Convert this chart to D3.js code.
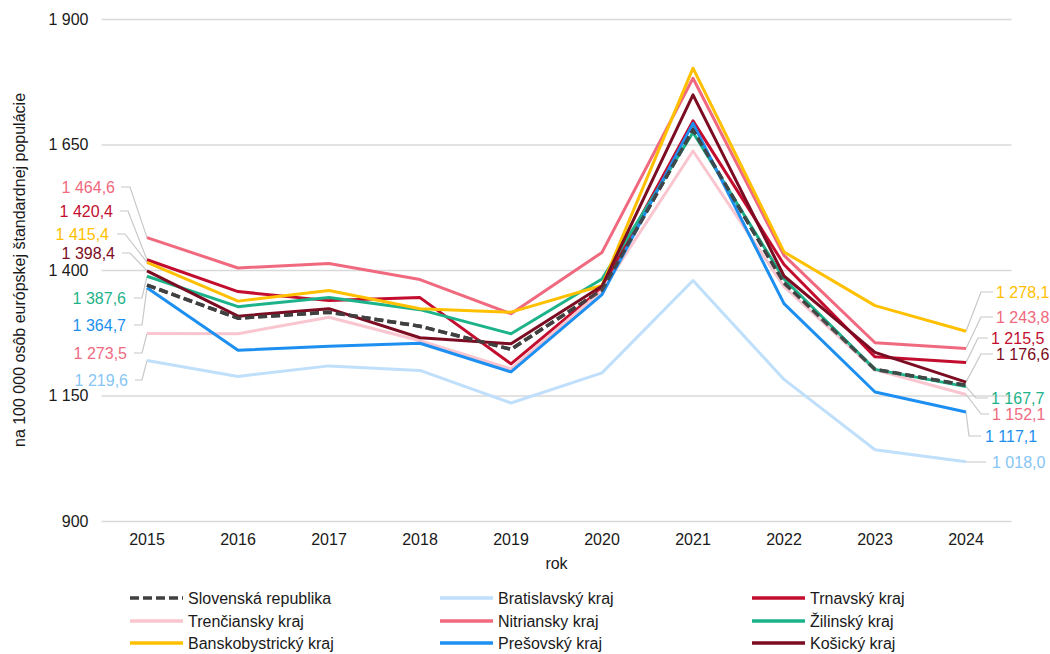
<!DOCTYPE html>
<html>
<head>
<meta charset="utf-8">
<script src="https://cdn.jsdelivr.net/npm/d3@7"></script>
<style>
  body { margin: 0; background: #fff; }
  text { font-family: "Liberation Sans", Arial, sans-serif; }
</style>
</head>
<body>
<svg id="chart"></svg>
<script>
// data
const years = [2015, 2016, 2017, 2018, 2019, 2020, 2021, 2022, 2023, 2024];
const seriesNames = ["Slovenská republika", "Bratislavský kraj", "Trnavský kraj", "Trenčiansky kraj",
  "Nitriansky kraj", "Žilinský kraj", "Banskobystrický kraj", "Prešovský kraj", "Košický kraj"];
const slovensko   = [1370, 1304, 1316, 1288, 1242, 1360, 1679, 1374, 1202, 1170];
const bratislava  = [1219.6, 1188, 1209, 1200, 1135, 1195, 1379, 1182, 1042, 1018.0];
const trnava      = [1420.4, 1357, 1339, 1345, 1213, 1364, 1697, 1411, 1227, 1215.5];
const trencin     = [1273.5, 1273, 1306, 1259, 1203, 1359, 1637, 1367, 1201, 1152.1];
const nitra       = [1464.6, 1404, 1413, 1381, 1313, 1435, 1782, 1429, 1255, 1243.8];
const zilina      = [1387.6, 1327, 1345, 1321, 1273, 1382, 1674, 1382, 1202, 1167.7];
const bystrica    = [1415.4, 1338, 1359, 1323, 1316, 1369, 1802, 1436, 1329, 1278.1];
const presov      = [1364.7, 1240, 1248, 1254, 1197, 1351, 1692, 1333, 1157, 1117.1];
const kosice      = [1398.4, 1308, 1323, 1265, 1253, 1368, 1749, 1388, 1236, 1176.6];
const yTicks = [900, 1150, 1400, 1650, 1900];
const yTitle = "na 100 000 osôb európskej štandardnej populácie";
const xTitle = "rok";

const values = [slovensko, bratislava, trnava, trencin, nitra, zilina, bystrica, presov, kosice];
const lineColors  = ["#404040", "#bfdffb", "#c30d2f", "#f9c5cf", "#f0697e", "#1db38a", "#ffc000", "#1c8ff0", "#7b0c22"];
const labelColors = ["#404040", "#86c5f4", "#c30d2f", "#f06b82", "#f0697e", "#1db38a", "#ffc000", "#1c8ff0", "#7b0c22"];

// label layout: [series index, text x, text y, stub x1, stub x2]
const leftLabels = [
  [4, 115, 187, 121, 130],
  [2, 113, 211, 120, 128],
  [6, 109, 234, 117, 125],
  [8, 115, 253, 122, 130],
  [5, 126, 298, 134, 142],
  [7, 126, 325, 134, 142],
  [3, 127, 353, 134, 142],
  [1, 128, 380, 135, 142]
];
const rightLabels = [
  [6, 996, 292, 993, 981],
  [4, 996, 317, 993, 981],
  [2, 991, 338, 988, 978],
  [8, 996, 354, 993, 981],
  [5, 991, 398, 988, 976],
  [3, 992, 414, 989, 981],
  [7, 985, 436, 981, 969],
  [1, 992, 462, 986, 967]
];

const width = 1050, height = 654;
const fs = 16;
const svg = d3.select("#chart").attr("width", width).attr("height", height);

const loc = d3.formatLocale({decimal: ",", thousands: " ", grouping: [3], currency: ["", ""]});
const fmt1 = loc.format(",.1f");
const fmt0 = loc.format(",d");

const x = d3.scaleBand().domain(years).range([101.5, 1011.5]);
const cx = d => x(d) + x.bandwidth() / 2;
const y = d3.scaleLinear().domain([900, 1900]).range([521, 19]);

// gridlines + y ticks
const yAxis = svg.append("g")
  .attr("transform", "translate(101.5,0)")
  .call(d3.axisLeft(y).tickValues(yTicks).tickSize(-910).tickPadding(13).tickFormat(fmt0));
yAxis.select(".domain").remove();
yAxis.selectAll("line").attr("stroke", "#d9d9d9").attr("stroke-width", 1.3);
yAxis.selectAll("text").attr("font-size", fs).attr("fill", "#1a1a1a")
  .attr("font-family", "Liberation Sans, Arial, sans-serif");

const xAxis = svg.append("g")
  .attr("transform", "translate(0,521)")
  .call(d3.axisBottom(x).tickSize(0).tickPadding(13));
xAxis.select(".domain").remove();
xAxis.selectAll("text").attr("font-size", fs).attr("fill", "#1a1a1a")
  .attr("font-family", "Liberation Sans, Arial, sans-serif");

svg.append("text")
  .attr("transform", "translate(19,270) rotate(-90)")
  .attr("text-anchor", "middle").attr("dominant-baseline", "central")
  .attr("font-size", fs).attr("fill", "#1a1a1a")
  .text(yTitle);
svg.append("text")
  .attr("x", 556.5).attr("y", 563)
  .attr("text-anchor", "middle").attr("dominant-baseline", "central")
  .attr("font-size", fs).attr("fill", "#1a1a1a")
  .text(xTitle);

// leader lines
const leaders = svg.append("g").attr("fill", "none").attr("stroke", "#c8c8c8").attr("stroke-width", 1.2);
leftLabels.forEach(([s, tx, ty, a, b]) => {
  leaders.append("path").attr("d", d3.line()([[a, ty], [b, ty], [cx(years[0]), y(values[s][0])]]));
});
rightLabels.forEach(([s, tx, ty, a, b]) => {
  const n = years.length - 1;
  leaders.append("path").attr("d", d3.line()([[a, ty], [b, ty], [cx(years[n]), y(values[s][n])]]));
});

// lines
const line = d3.line().x((d, i) => cx(years[i])).y(d => y(d));
const lines = svg.append("g").attr("fill", "none");
values.forEach((v, s) => {
  lines.append("path")
    .attr("d", line(v))
    .attr("stroke", lineColors[s])
    .attr("stroke-width", s === 0 ? 3.5 : 3)
    .attr("stroke-linejoin", "round")
    .attr("stroke-dasharray", s === 0 ? "9,4" : null);
});
// keep the dashed national line visible above the regions
lines.append("path").attr("d", line(slovensko)).attr("stroke", lineColors[0])
  .attr("stroke-width", 3.5).attr("stroke-dasharray", "9,4").attr("opacity", 0.9);

// value labels
const labels = svg.append("g").attr("font-size", fs).attr("dominant-baseline", "central");
leftLabels.forEach(([s, tx, ty]) => {
  labels.append("text").attr("x", tx).attr("y", ty).attr("text-anchor", "end")
    .attr("fill", labelColors[s]).text(fmt1(values[s][0]));
});
rightLabels.forEach(([s, tx, ty]) => {
  labels.append("text").attr("x", tx).attr("y", ty).attr("text-anchor", "start")
    .attr("fill", labelColors[s]).text(fmt1(values[s][years.length - 1]));
});

// legend
const colX = [130, 440, 752], rowY = [598, 621, 643];
const legend = svg.append("g");
seriesNames.forEach((name, s) => {
  const lx = colX[s % 3], ly = rowY[Math.floor(s / 3)];
  legend.append("line").attr("x1", lx).attr("x2", lx + 53).attr("y1", ly).attr("y2", ly)
    .attr("stroke", lineColors[s]).attr("stroke-width", 3.5)
    .attr("stroke-dasharray", s === 0 ? "9,4" : null);
  legend.append("text").attr("x", lx + 58).attr("y", ly).attr("dominant-baseline", "central")
    .attr("font-size", fs).attr("fill", "#1a1a1a").text(name);
});
</script>
</body>
</html>
